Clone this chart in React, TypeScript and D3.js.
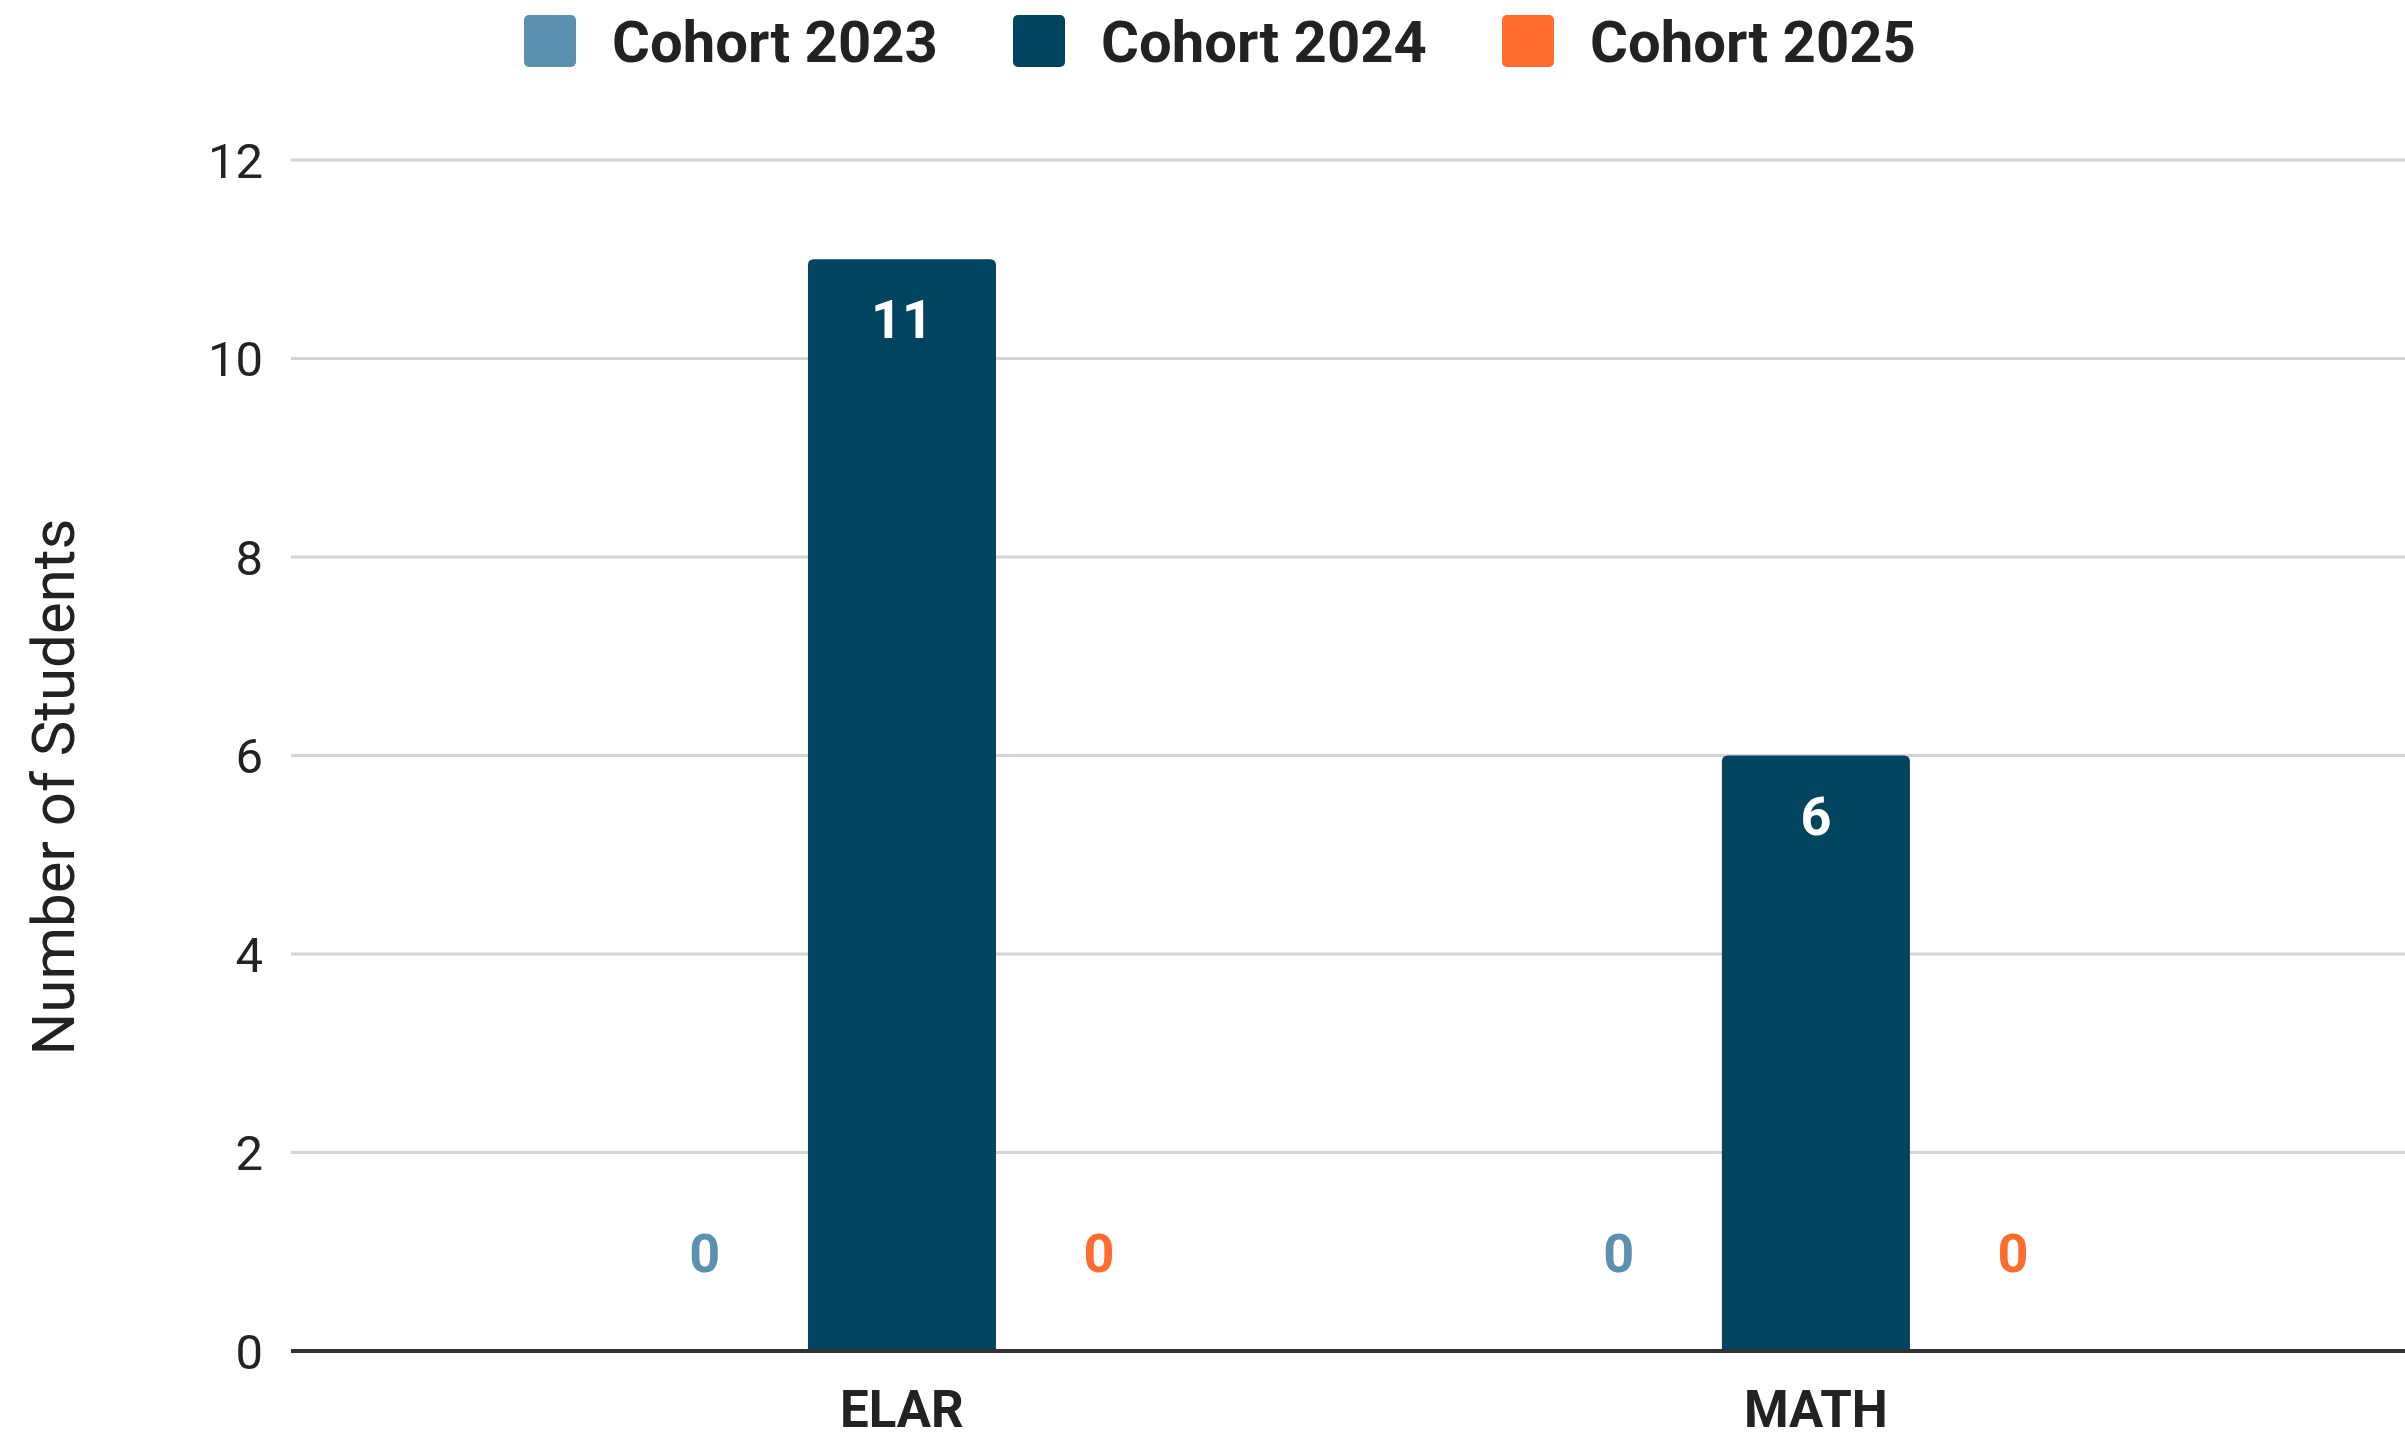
import React from "react";
import * as d3 from "d3";

const categories = ["ELAR", "MATH"];
const seriesNames = ["Cohort 2023", "Cohort 2024", "Cohort 2025"];
const cohort2023 = [0, 0];
const cohort2024 = [11, 6];
const cohort2025 = [0, 0];
const seriesValues = [cohort2023, cohort2024, cohort2025];
const seriesColors = ["#5a91b0", "#01445f", "#ff6d2e"];
const yTicks = [0, 2, 4, 6, 8, 10, 12];
const yTitle = "Number of Students";

const W = 2405;
const H = 1438;
const FONT = "Roboto, 'Noto Sans', Arial, sans-serif";

function topRoundedBar(x: number, y: number, w: number, h: number, r: number) {
  const rr = Math.min(r, h, w / 2);
  const p = d3.path();
  p.moveTo(x, y + h);
  p.lineTo(x, y + rr);
  p.quadraticCurveTo(x, y, x + rr, y);
  p.lineTo(x + w - rr, y);
  p.quadraticCurveTo(x + w, y, x + w, y + rr);
  p.lineTo(x + w, y + h);
  p.closePath();
  return p.toString();
}

export default function App() {
  const plotLeft = 291;
  const plotRight = W;
  const y = d3.scaleLinear().domain([0, 12]).range([1351, 160]);
  const x0 = d3
    .scaleBand<string>()
    .domain(categories)
    .range([plotLeft, plotRight])
    .paddingInner(0.363)
    .paddingOuter(0.338)
    .align(0.5177);
  const x1 = d3
    .scaleBand<string>()
    .domain(seriesNames)
    .range([0, x0.bandwidth()])
    .paddingInner(0.046)
    .paddingOuter(0);

  const legendX = [524, 1013, 1502];

  return (
    <svg
      width={W}
      height={H}
      style={{ position: "absolute", left: 0, top: 0, display: "block", background: "#fff" }}
      fontFamily={FONT}
    >
      <rect x={0} y={0} width={W} height={H} fill="#ffffff" />
      {/* legend */}
      {seriesNames.map((s, i) => (
        <g key={s}>
          <rect x={legendX[i]} y={15} width={52} height={52} rx={5} fill={seriesColors[i]} />
          <text
            x={legendX[i] + 88}
            y={62}
            fontSize={58}
            fontWeight={700}
            fill="#222222"
          >
            {s}
          </text>
        </g>
      ))}

      {/* gridlines */}
      {yTicks.map((t) => (
        <g key={t}>
          {t !== 0 && (
            <line
              x1={plotLeft}
              x2={plotRight}
              y1={y(t)}
              y2={y(t)}
              stroke="#d4d4d4"
              strokeWidth={3}
            />
          )}
          <text
            x={263}
            y={y(t)}
            dy="0.36em"
            textAnchor="end"
            fontSize={49}
            fill="#222222"
          >
            {t}
          </text>
        </g>
      ))}

      {/* y title */}
      <text
        transform={`translate(52, 787) rotate(-90)`}
        textAnchor="middle"
        dy="0.36em"
        fontSize={60}
        fill="#222222"
      >
        {yTitle}
      </text>

      {/* bars */}
      {categories.map((c, ci) => (
        <g key={c} transform={`translate(${x0(c)},0)`}>
          {seriesNames.map((s, si) => {
            const v = seriesValues[si][ci];
            const bx = x1(s) as number;
            const bw = x1.bandwidth();
            const top = y(v);
            const h = y(0) - top;
            return (
              <g key={s}>
                {v > 0 && (
                  <path d={topRoundedBar(bx, top, bw, h, 6)} fill={seriesColors[si]} />
                )}
                {v > 0 ? (
                  <text
                    x={bx + bw / 2}
                    y={top + 79}
                    textAnchor="middle"
                    fontSize={54}
                    fontWeight={700}
                    fill="#ffffff"
                  >
                    {v}
                  </text>
                ) : (
                  <text
                    x={bx + bw / 2}
                    y={y(0) - 79}
                    textAnchor="middle"
                    fontSize={54}
                    fontWeight={700}
                    fill={seriesColors[si]}
                  >
                    {v}
                  </text>
                )}
              </g>
            );
          })}
          <text
            x={x0.bandwidth() / 2}
            y={1427}
            textAnchor="middle"
            fontSize={51}
            fontWeight={700}
            fill="#222222"
          >
            {c}
          </text>
        </g>
      ))}

      {/* baseline */}
      <line
        x1={plotLeft}
        x2={plotRight}
        y1={y(0)}
        y2={y(0)}
        stroke="#333333"
        strokeWidth={4}
      />
    </svg>
  );
}
